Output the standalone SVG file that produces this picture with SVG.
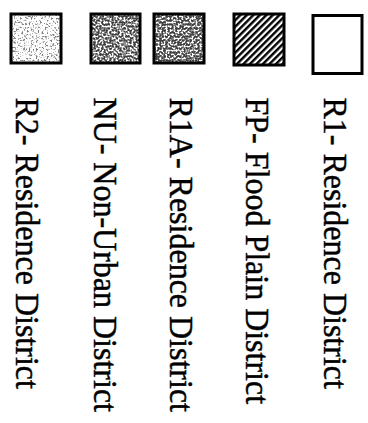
<svg xmlns="http://www.w3.org/2000/svg" width="368" height="423" viewBox="0 0 368 423">
  <style>
    .frame { fill: none; stroke: #000; stroke-width: 3; }
    .label { font-family: "Liberation Serif", "Times New Roman", serif; font-size: 32px; fill: #000; stroke: #000; stroke-width: 0.45; }
  </style>
  <defs>
    <!-- random dot screens for the stippled swatches -->
    <filter id="dots-light" x="0" y="0" width="1" height="1" filterUnits="objectBoundingBox">
      <feTurbulence type="fractalNoise" baseFrequency="0.55" numOctaves="2" seed="3" result="n"/>
      <feColorMatrix in="n" type="matrix" values="0 0 0 0 0.2  0 0 0 0 0.2  0 0 0 0 0.2  1 0 0 0 0"/>
      <feComponentTransfer>
        <feFuncA type="linear" slope="6" intercept="-3.2"/>
      </feComponentTransfer>
    </filter>
    <filter id="dots-dark" x="0" y="0" width="1" height="1" filterUnits="objectBoundingBox">
      <feTurbulence type="fractalNoise" baseFrequency="0.5" numOctaves="2" seed="7" result="n"/>
      <feColorMatrix in="n" type="matrix" values="0 0 0 0 0.05  0 0 0 0 0.05  0 0 0 0 0.05  1 0 0 0 0"/>
      <feComponentTransfer>
        <feFuncA type="linear" slope="7" intercept="-2.9"/>
      </feComponentTransfer>
    </filter>
    <filter id="dots-dark2" x="0" y="0" width="1" height="1" filterUnits="objectBoundingBox">
      <feTurbulence type="fractalNoise" baseFrequency="0.5" numOctaves="2" seed="11" result="n"/>
      <feColorMatrix in="n" type="matrix" values="0 0 0 0 0.05  0 0 0 0 0.05  0 0 0 0 0.05  1 0 0 0 0"/>
      <feComponentTransfer>
        <feFuncA type="linear" slope="7" intercept="-2.8"/>
      </feComponentTransfer>
    </filter>
    <!-- diagonal hatch for the flood plain swatch -->
    <pattern id="hatch" width="4.6" height="4.6" patternUnits="userSpaceOnUse" patternTransform="rotate(45)">
      <rect x="0" y="0" width="2.4" height="4.6" fill="#000"/>
    </pattern>
  </defs>

  <rect width="368" height="423" fill="#fff"/>

  <g id="r2">
    <rect x="11" y="14" width="50" height="49" fill="#fff"/>
    <rect x="11" y="14" width="50" height="49" filter="url(#dots-light)"/>
    <rect class="frame" x="11" y="14" width="50" height="49"/>
    <text class="label" transform="translate(15.5,97.5) rotate(90) scale(1,1.05)">R2- Residence District</text>
  </g>

  <g id="nu">
    <rect x="91" y="14" width="49" height="49" fill="#fff"/>
    <rect x="91" y="14" width="49" height="49" filter="url(#dots-dark)"/>
    <rect class="frame" x="91" y="14" width="49" height="49"/>
    <text class="label" transform="translate(93.5,97.5) rotate(90) scale(1,1.05)">NU- Non-Urban District</text>
  </g>

  <g id="r1a">
    <rect x="154" y="14" width="50" height="49" fill="#fff"/>
    <rect x="154" y="14" width="50" height="49" filter="url(#dots-dark2)"/>
    <rect class="frame" x="154" y="14" width="50" height="49"/>
    <text class="label" transform="translate(169.5,97.5) rotate(90) scale(1,1.05)">R1A- Residence District</text>
  </g>

  <g id="fp">
    <rect x="234" y="14" width="50" height="51" fill="#fff"/>
    <rect x="234" y="14" width="50" height="51" fill="url(#hatch)"/>
    <rect class="frame" x="234" y="14" width="50" height="51"/>
    <text class="label" transform="translate(246,97.5) rotate(90) scale(1,1.05)">FP- Flood Plain District</text>
  </g>

  <g id="r1">
    <rect class="frame" x="313" y="15.5" width="49" height="58" fill="#fff"/>
    <text class="label" transform="translate(323.5,97.5) rotate(90) scale(1,1.05)">R1- Residence District</text>
  </g>
</svg>
